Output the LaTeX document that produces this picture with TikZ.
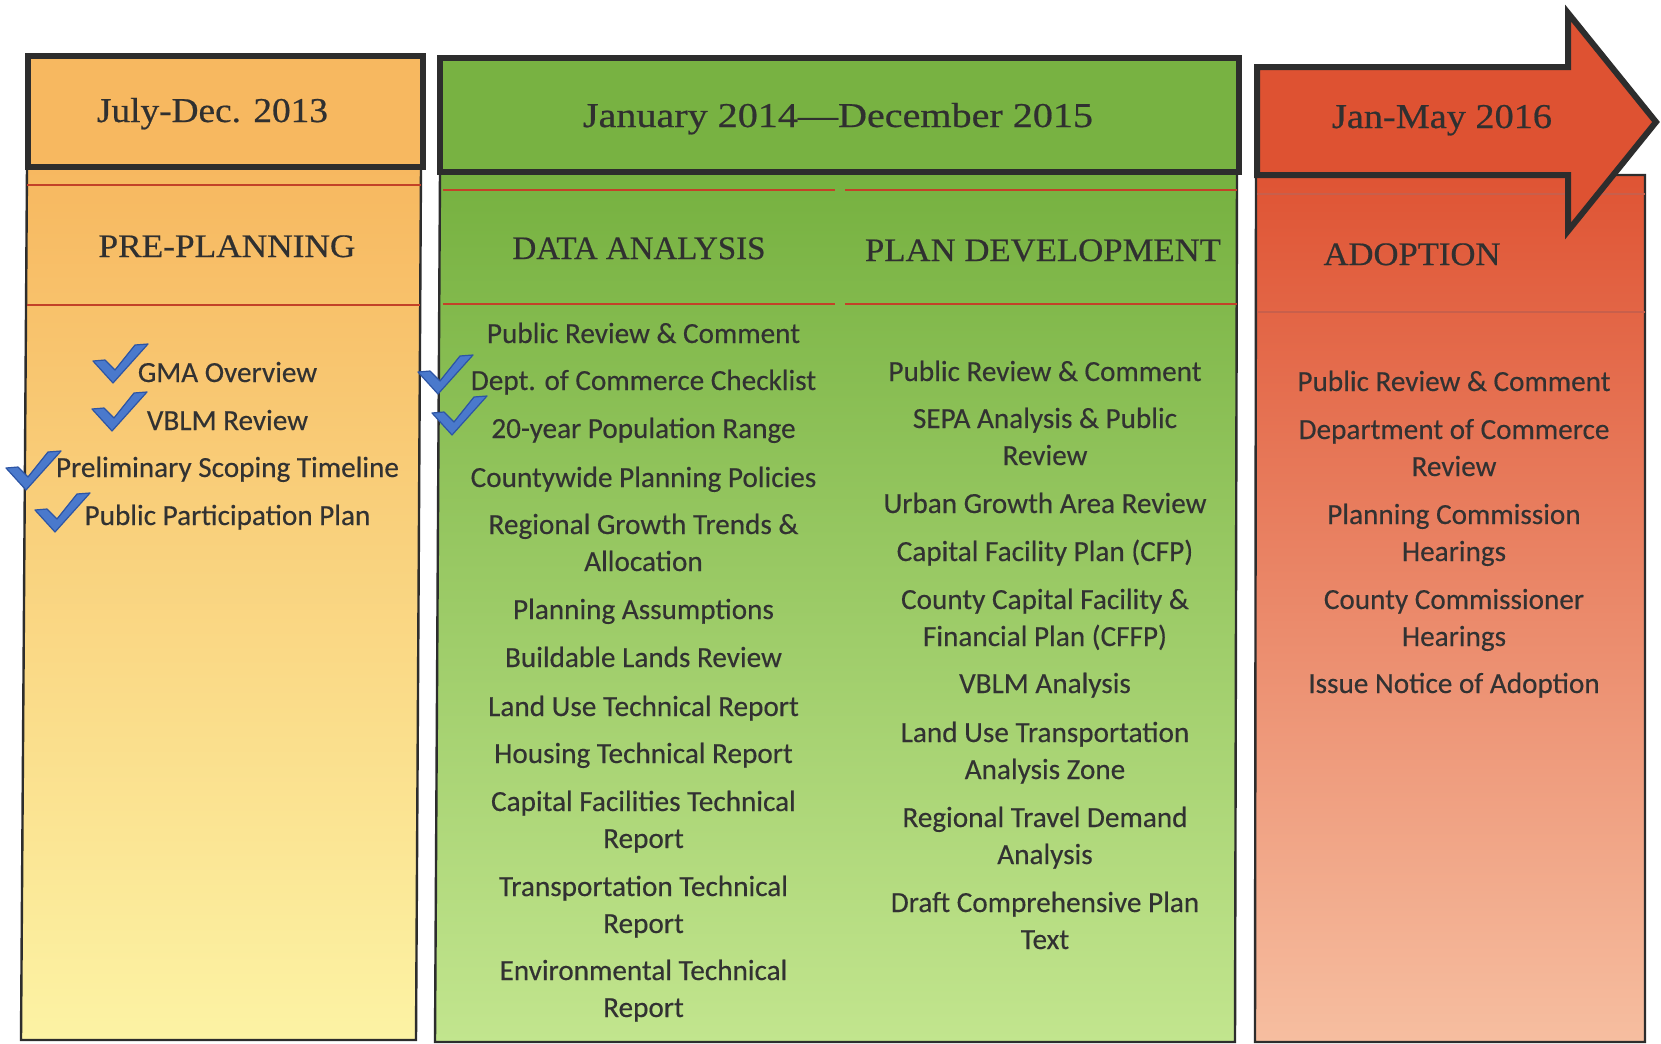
\documentclass[tikz,border=0pt]{standalone}
\usepackage{fontspec}
\usepackage{graphicx}
\setmainfont[FakeBold=0.3]{Carlito}
\newfontfamily\hdrfont[FakeBold=0.5]{Liberation Serif}
\definecolor{orHdr}{RGB}{247,184,96}
\definecolor{orTop}{RGB}{247,184,96}
\definecolor{orBot}{RGB}{252,243,164}
\definecolor{grHdr}{RGB}{120,178,66}
\definecolor{grTop}{RGB}{118,177,64}
\definecolor{grBot}{RGB}{194,229,142}
\definecolor{rdHdr}{RGB}{222,82,50}
\definecolor{rdTop}{RGB}{223,84,52}
\definecolor{rdBot}{RGB}{246,190,160}
\definecolor{bordergray}{RGB}{45,45,45}
\definecolor{divred}{RGB}{195,65,40}
\definecolor{divredlight}{RGB}{200,95,75}
\definecolor{txtgray}{RGB}{50,50,50}
\definecolor{hdrgray}{RGB}{48,48,48}
\definecolor{chkfill}{RGB}{74,121,204}
\definecolor{chkline}{RGB}{45,85,165}
\makeatletter
\newlength\fitlen
\newlength\fittarget
\newcommand\fitw[2]{\setlength\fittarget{#1}\settowidth\fitlen{#2}\scalebox{\strip@pt\dimexpr 1pt*\fittarget/\fitlen\relax}[1]{#2}}
\makeatother
\newcommand\hdrA{\hdrfont\fontsize{17.4}{20}\selectfont}
\newcommand\hdrB{\hdrfont\fontsize{16.4}{19}\selectfont}
\newcommand\itemfont{\fontsize{14.6}{18.5}\selectfont}
\newcommand\twol[2]{\begin{tabular}[t]{@{}c@{}}#1\\#2\end{tabular}}
\begin{document}
\begin{tikzpicture}[x=0.5pt,y=-0.5pt,
  hdrbox/.style={draw=bordergray,line width=3pt,line join=miter},
  bodybox/.style={draw=bordergray,line width=1.2pt},
  divline/.style={draw=divred,line width=0.8pt},
  divlight/.style={draw=divredlight,line width=0.6pt},
  hdrtext/.style={font=\hdrA,text=hdrgray,anchor=base,inner sep=0pt},
  sectext/.style={font=\hdrB,text=hdrgray,anchor=base,inner sep=0pt},
  itemtext/.style={font=\itemfont,text=txtgray,anchor=base,inner sep=0pt},
  chk/.pic={\draw[fill=chkfill,draw=chkline,line width=0.6pt,line join=round]
     (0,0) -- (-20,-22) -- (-8,-23) -- (2,-13) -- (22,-38) -- (35,-39) -- cycle;}]
\fill[white] (0,0) rectangle (1661,1044);
\useasboundingbox (0,0) rectangle (1661,1044);

% column 1
\shade[bodybox,top color=orTop,bottom color=orBot] (27,167) -- (421,167) -- (416,1040) -- (21,1040) -- cycle;
\draw[divline] (27,185) -- (421,185);
\draw[divline] (27,305) -- (420,305);
\draw[hdrbox,fill=orHdr] (28,56) rectangle (423,167);

% column 2
\shade[bodybox,top color=grTop,bottom color=grBot] (440,172) -- (1237,172) -- (1235,1042) -- (435,1042) -- cycle;
\draw[divline] (443,190) -- (835,190);
\draw[divline] (845,190) -- (1237,190);
\draw[divline] (443,304) -- (835,304);
\draw[divline] (845,304) -- (1237,304);
\draw[hdrbox,fill=grHdr] (440,58) rectangle (1239,172);

% column 3
\shade[bodybox,top color=rdTop,bottom color=rdBot] (1256,175) -- (1645,175) -- (1645,1042) -- (1255,1042) -- cycle;
\draw[divlight] (1257,194) -- (1645,194);
\draw[divlight] (1257,312) -- (1645,312);
\draw[hdrbox,fill=rdHdr] (1257,67) -- (1568,67) -- (1568,13) -- (1656,122) -- (1568,231) -- (1568,175) -- (1257,175) -- cycle;

% header texts
\node[hdrtext] (h1) at (212.5,122) {\fitw{115.5pt}{July-Dec. 2013}};
\node[hdrtext] (h2) at (838,127) {\fitw{255pt}{January 2014—December 2015}};
\node[hdrtext] (h3) at (1442,128) {\fitw{110pt}{Jan-May 2016}};

% section titles
\node[sectext] (s1) at (227,257) {\fitw{128.5pt}{PRE-PLANNING}};
\node[sectext] (s2) at (639,259) {\fitw{126.5pt}{DATA ANALYSIS}};
\node[sectext] (s3) at (1043,261) {\fitw{178pt}{PLAN DEVELOPMENT}};
\node[sectext] (s4) at (1412,265) {\fitw{88.5pt}{ADOPTION}};

% pre-planning items
\node[itemtext] (i1) at (227.5,382) {GMA Overview};
\node[itemtext] (i2) at (227.5,430) {VBLM Review};
\node[itemtext] (i3) at (227.5,477) {Preliminary Scoping Timeline};
\node[itemtext] (i4) at (227.5,525) {Public Participation Plan};

% data analysis items
\node[itemtext] (d1) at (643.5,343) {Public Review \& Comment};
\node[itemtext] (d2) at (643.5,390) {Dept. of Commerce Checklist};
\node[itemtext] (d3) at (643.5,438) {20-year Population Range};
\node[itemtext] (d4) at (643.5,487) {Countywide Planning Policies};
\node[itemtext] (d5) at (643.5,534) {\twol{Regional Growth Trends \&}{Allocation}};
\node[itemtext] (d6) at (643.5,619) {Planning Assumptions};
\node[itemtext] (d7) at (643.5,667) {Buildable Lands Review};
\node[itemtext] (d8) at (643.5,716) {Land Use Technical Report};
\node[itemtext] (d9) at (643.5,763) {Housing Technical Report};
\node[itemtext] (d10) at (643.5,811) {\twol{Capital Facilities Technical}{Report}};
\node[itemtext] (d11) at (643.5,896) {\twol{Transportation Technical}{Report}};
\node[itemtext] (d12) at (643.5,980) {\twol{Environmental Technical}{Report}};

% plan development items
\node[itemtext] (p1) at (1045,381) {Public Review \& Comment};
\node[itemtext] (p2) at (1045,428) {\twol{SEPA Analysis \& Public}{Review}};
\node[itemtext] (p3) at (1045,513) {Urban Growth Area Review};
\node[itemtext] (p4) at (1045,561) {Capital Facility Plan (CFP)};
\node[itemtext] (p5) at (1045,609) {\twol{County Capital Facility \&}{Financial Plan (CFFP)}};
\node[itemtext] (p6) at (1045,693) {VBLM Analysis};
\node[itemtext] (p7) at (1045,742) {\twol{Land Use Transportation}{Analysis Zone}};
\node[itemtext] (p8) at (1045,827) {\twol{Regional Travel Demand}{Analysis}};
\node[itemtext] (p9) at (1045,912) {\twol{Draft Comprehensive Plan}{Text}};

% adoption items
\node[itemtext] (a1) at (1454,391) {Public Review \& Comment};
\node[itemtext] (a2) at (1454,439) {\twol{Department of Commerce}{Review}};
\node[itemtext] (a3) at (1454,524) {\twol{Planning Commission}{Hearings}};
\node[itemtext] (a4) at (1454,609) {\twol{County Commissioner}{Hearings}};
\node[itemtext] (a5) at (1454,693) {Issue Notice of Adoption};

% check marks
\pic at (113,383) {chk};
\pic at (112,431) {chk};
\pic at (26,490) {chk};
\pic at (55,532) {chk};
\pic at (438,394) {chk};
\pic at (452,435) {chk};
\end{tikzpicture}
\end{document}
